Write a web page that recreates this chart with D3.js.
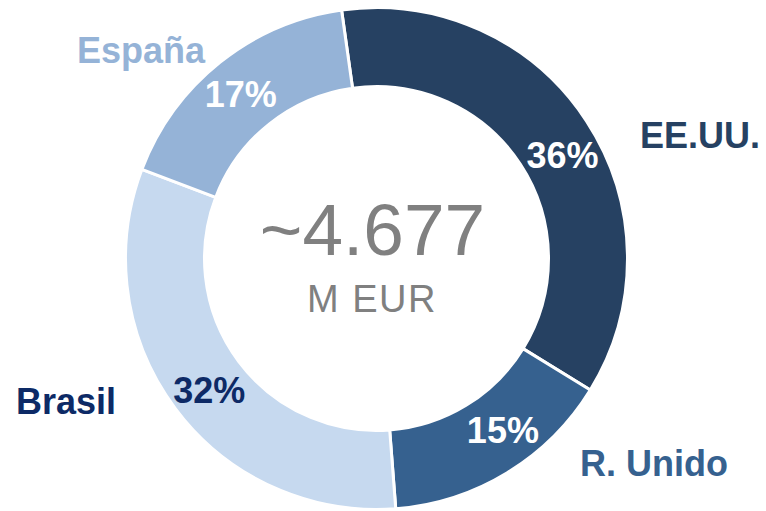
<!DOCTYPE html>
<html>
<head>
<meta charset="utf-8">
<script src="https://cdn.jsdelivr.net/npm/d3@7"></script>
<style>
  body { margin: 0; background: #fff; }
  text { font-family: "Liberation Sans", Arial, sans-serif; }
</style>
</head>
<body>
<svg id="chart"></svg>
<script>
// Data
const countries = ["EE.UU.", "R. Unido", "Brasil", "España"];
const shares = [36, 15, 32, 17];
const colors = ["#264162", "#36618f", "#c6d9ef", "#95b3d7"];
const nameColors = ["#264162", "#36618f", "#0d2a66", "#95b3d7"];
const pctColors = ["#ffffff", "#ffffff", "#0d2a66", "#ffffff"];
const totalLabel = "~4.677";
const unitLabel = "M EUR";

// Layout: country name positions and small angle nudges (deg) for the % labels
const namePos = [[640, 148], [580, 476], [16, 414], [77, 63]];
const pctNudge = [4, -5, -1.5, -1];

const width = 766, height = 511;
const cx = 376.5, cy = 258.5;
const outerR = 251, innerR = 172;
const labelR = 213;

const svg = d3.select("#chart")
    .attr("width", width)
    .attr("height", height);

const g = svg.append("g").attr("transform", `translate(${cx},${cy})`);

const startAngle = -8 * Math.PI / 180;
const pie = d3.pie()
    .sort(null)
    .startAngle(startAngle)
    .endAngle(startAngle + 2 * Math.PI);

const arc = d3.arc().innerRadius(innerR).outerRadius(outerR);
const arcs = pie(shares);

g.selectAll("path.slice")
    .data(arcs)
    .enter().append("path")
    .attr("class", "slice")
    .attr("d", arc)
    .attr("fill", (d, i) => colors[i])
    .attr("stroke", "#fff")
    .attr("stroke-width", 3);

// Percentage labels inside the ring
g.selectAll("text.pct")
    .data(arcs)
    .enter().append("text")
    .attr("class", "pct")
    .attr("transform", (d, i) => {
        const a = (d.startAngle + d.endAngle) / 2 + pctNudge[i] * Math.PI / 180;
        return `translate(${labelR * Math.sin(a)},${-labelR * Math.cos(a)})`;
    })
    .attr("text-anchor", "middle")
    .attr("dy", "0.36em")
    .attr("font-size", 36)
    .attr("font-weight", "bold")
    .attr("fill", (d, i) => pctColors[i])
    .text(d => d.data + "%");

// Country names
svg.selectAll("text.name")
    .data(countries)
    .enter().append("text")
    .attr("class", "name")
    .attr("x", (d, i) => namePos[i][0])
    .attr("y", (d, i) => namePos[i][1])
    .attr("font-size", 36)
    .attr("font-weight", "bold")
    .attr("fill", (d, i) => nameColors[i])
    .text(d => d);

// Center total
svg.append("text")
    .attr("x", 372.5)
    .attr("y", 255)
    .attr("text-anchor", "middle")
    .attr("font-size", 73)
    .attr("fill", "#808080")
    .text(totalLabel);

svg.append("text")
    .attr("x", 372)
    .attr("y", 312)
    .attr("text-anchor", "middle")
    .attr("font-size", 38)
    .attr("letter-spacing", 1.5)
    .attr("fill", "#808080")
    .text(unitLabel);
</script>
</body>
</html>
